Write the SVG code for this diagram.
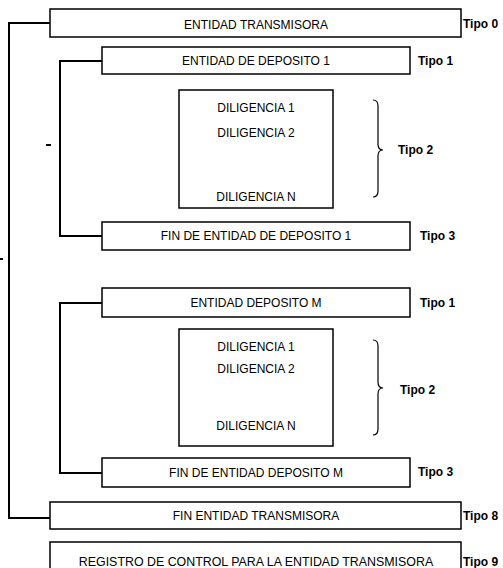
<svg xmlns="http://www.w3.org/2000/svg" width="503" height="568" viewBox="0 0 503 568">
<style>
.box{fill:#fff;stroke:#000;stroke-width:1.5}
.t{font-family:"Liberation Sans",Arial,sans-serif;font-size:12px;text-anchor:middle;fill:#000}
.tipo{font-family:"Liberation Sans",Arial,sans-serif;font-size:12px;font-weight:bold;fill:#000}
.c{fill:none;stroke:#000;stroke-width:2}
.br{fill:none;stroke:#000;stroke-width:1.2}
</style>
<rect width="503" height="568" fill="#fff"/>
<g id="connectors">
<path class="c" d="M50,23 H9 V518 H50"/>
<path class="c" d="M102,61 H60 V236 H102"/>
<path class="c" d="M102,303 H60 V473 H102"/>
<path class="br" d="M373,100 Q378,100 378,106 V144 Q378,150 383,150 Q378,150 378,156 V191 Q378,197 373,197"/>
<path class="br" d="M373,340 Q378,340 378,346 V382 Q378,388 383,388 Q378,388 378,394 V429 Q378,435 373,435"/>
<rect x="46" y="144" width="5" height="2" fill="#000"/>
<rect x="0" y="258" width="3" height="2" fill="#000"/>
</g>
<g id="n0"><rect class="box" x="50" y="9" width="411" height="28"/><text class="t" x="256" y="29">ENTIDAD TRANSMISORA</text><text class="tipo" x="463" y="28">Tipo 0</text></g>
<g id="n1"><rect class="box" x="102" y="47" width="308" height="27"/><text class="t" x="256" y="65">ENTIDAD DE DEPOSITO 1</text><text class="tipo" x="418" y="65">Tipo 1</text></g>
<g id="n2"><rect class="box" x="179" y="90" width="154" height="118"/><text class="t" x="256" y="112">DILIGENCIA 1</text><text class="t" x="256" y="137">DILIGENCIA 2</text><text class="t" x="256" y="201">DILIGENCIA N</text><text class="tipo" x="398" y="154">Tipo 2</text></g>
<g id="n3"><rect class="box" x="102" y="222" width="308" height="28"/><text class="t" x="256" y="240">FIN DE ENTIDAD DE DEPOSITO 1</text><text class="tipo" x="420" y="240">Tipo 3</text></g>
<g id="n4"><rect class="box" x="102" y="288" width="308" height="29"/><text class="t" x="256" y="307">ENTIDAD DEPOSITO M</text><text class="tipo" x="420" y="307">Tipo 1</text></g>
<g id="n5"><rect class="box" x="179" y="329" width="154" height="117"/><text class="t" x="256" y="351">DILIGENCIA 1</text><text class="t" x="256" y="373">DILIGENCIA 2</text><text class="t" x="256" y="430">DILIGENCIA N</text><text class="tipo" x="400" y="394">Tipo 2</text></g>
<g id="n6"><rect class="box" x="102" y="458" width="308" height="29"/><text class="t" x="256" y="477">FIN DE ENTIDAD DEPOSITO M</text><text class="tipo" x="418" y="476">Tipo 3</text></g>
<g id="n7"><rect class="box" x="50" y="502" width="411" height="27"/><text class="t" x="256" y="520">FIN ENTIDAD TRANSMISORA</text><text class="tipo" x="463" y="520">Tipo 8</text></g>
<g id="n8"><rect class="box" x="50" y="542" width="411" height="40"/><text class="t" x="256" y="566" style="font-size:12.4px">REGISTRO DE CONTROL PARA LA ENTIDAD TRANSMISORA</text><text class="tipo" x="463" y="566">Tipo 9</text></g>
</svg>
